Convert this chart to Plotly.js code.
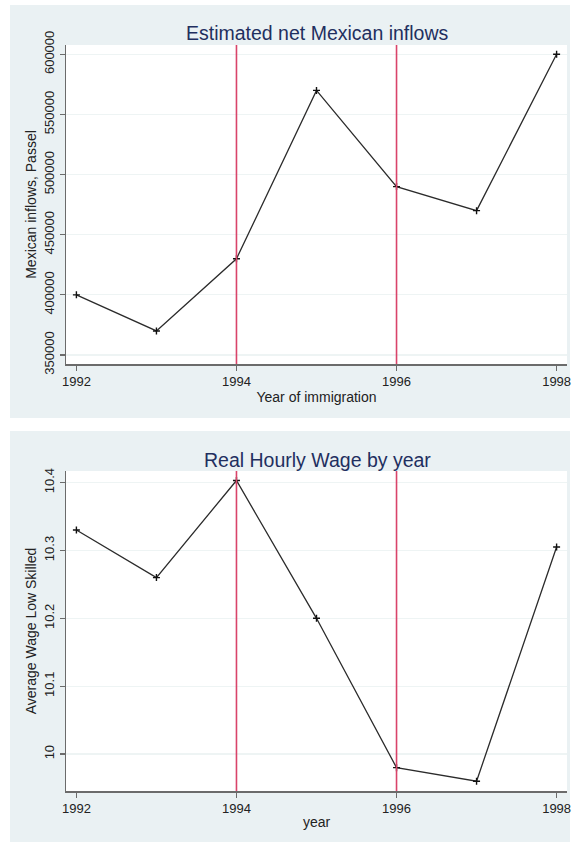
<!DOCTYPE html>
<html>
<head>
<meta charset="utf-8">
<script src="https://cdn.plot.ly/plotly-3.0.1.min.js"></script>
<style>
  html, body { margin: 0; padding: 0; background: #ffffff; }
  #chart { width: 572px; height: 844px; }
</style>
</head>
<body>
<div id="chart"></div>
<script>
// ---- Data ----
const years = [1992, 1993, 1994, 1995, 1996, 1997, 1998];
const inflows = [400000, 370000, 430000, 570000, 490000, 470000, 600000];
const wages = [10.33, 10.26, 10.403, 10.2, 9.98, 9.96, 10.305];
const policyYears = [1994, 1996];
const xTicks = [1992, 1994, 1996, 1998];
const inflowTicks = [350000, 400000, 450000, 500000, 550000, 600000];
const inflowTickText = ['350000', '400000', '450000', '500000', '550000', '600000'];
const wageTicks = [10, 10.1, 10.2, 10.3, 10.4];
const wageTickText = ['10', '10.1', '10.2', '10.3', '10.4'];
const title1 = 'Estimated net Mexican inflows';
const title2 = 'Real Hourly Wage by year';
const xTitle1 = 'Year of immigration';
const yTitle1 = 'Mexican inflows, Passel';
const xTitle2 = 'year';
const yTitle2 = 'Average Wage Low Skilled';

// ---- Layout geometry ----
const W = 572, H = 844;
const px = v => v / W;
const py = v => 1 - v / H;

const FONT = 'Liberation Sans, Arial, sans-serif';
const panelBg = '#eaf1f3';
const gridCol = '#eef4f4';
const axisCol = '#6b6b6b';
const titleCol = '#1f2f5f';
const redCol = '#d9446a';

const lineTrace = (x, y, xa, ya) => ({
  x: x, y: y, xaxis: xa, yaxis: ya,
  type: 'scatter', mode: 'lines+markers',
  line: { color: '#2b2b2b', width: 1.3 },
  marker: { symbol: 'cross-thin', size: 5, line: { color: '#111', width: 1.4 }, color: '#111' },
  hoverinfo: 'x+y', showlegend: false
});

const data = [
  lineTrace(years, inflows, 'x', 'y'),
  lineTrace(years, wages, 'x2', 'y2')
];

const xCommon = {
  range: [1991.87, 1998.13],
  tickmode: 'array', tickvals: xTicks,
  showline: true, linecolor: axisCol, linewidth: 1.5,
  ticks: 'outside', ticklen: 5, tickcolor: axisCol, tickwidth: 1.2,
  showgrid: false, zeroline: false,
  tickfont: { family: FONT, size: 13, color: '#222' }
};
const yCommon = {
  showline: true, linecolor: axisCol, linewidth: 1.5,
  ticks: 'outside', ticklen: 5, tickcolor: axisCol, tickwidth: 1.2,
  showgrid: true, gridcolor: gridCol, gridwidth: 1.2,
  zeroline: false, tickangle: -90,
  tickfont: { family: FONT, size: 13, color: '#222' }
};

const shapes = [];
// panel backgrounds
shapes.push({ type: 'rect', xref: 'paper', yref: 'paper', x0: px(10), x1: px(570), y0: py(418), y1: py(5),
  fillcolor: panelBg, line: { width: 0 }, layer: 'below' });
shapes.push({ type: 'rect', xref: 'paper', yref: 'paper', x0: px(10), x1: px(570), y0: py(842), y1: py(431),
  fillcolor: panelBg, line: { width: 0 }, layer: 'below' });
// white plot regions
shapes.push({ type: 'rect', xref: 'x domain', yref: 'y domain', x0: 0, x1: 1, y0: 0, y1: 1,
  fillcolor: '#ffffff', line: { width: 0 }, layer: 'below' });
shapes.push({ type: 'rect', xref: 'x2 domain', yref: 'y2 domain', x0: 0, x1: 1, y0: 0, y1: 1,
  fillcolor: '#ffffff', line: { width: 0 }, layer: 'below' });
// policy year lines
policyYears.forEach(yr => {
  shapes.push({ type: 'line', xref: 'x', yref: 'y domain', x0: yr, x1: yr, y0: 0, y1: 1,
    line: { color: redCol, width: 1.6 }, layer: 'above' });
  shapes.push({ type: 'line', xref: 'x2', yref: 'y2 domain', x0: yr, x1: yr, y0: 0, y1: 1,
    line: { color: redCol, width: 1.6 }, layer: 'above' });
});

const layout = {
  width: W, height: H,
  margin: { l: 0, r: 0, t: 0, b: 0 },
  paper_bgcolor: '#ffffff',
  plot_bgcolor: 'rgba(0,0,0,0)',
  showlegend: false,
  font: { family: FONT, color: '#222' },
  xaxis: Object.assign({}, xCommon, {
    domain: [px(66), px(567)], anchor: 'y',
    title: { text: xTitle1, font: { family: FONT, size: 14, color: '#222' }, standoff: 4 }
  }),
  yaxis: Object.assign({}, yCommon, {
    domain: [py(364), py(45)], anchor: 'x',
    range: [342500, 607750],
    tickmode: 'array', tickvals: inflowTicks, ticktext: inflowTickText,
    title: { text: yTitle1, font: { family: FONT, size: 14, color: '#222' }, standoff: 2 }
  }),
  xaxis2: Object.assign({}, xCommon, {
    domain: [px(66), px(567)], anchor: 'y2',
    title: { text: xTitle2, font: { family: FONT, size: 14, color: '#222' }, standoff: 2 }
  }),
  yaxis2: Object.assign({}, yCommon, {
    domain: [py(791), py(471)], anchor: 'x2',
    range: [9.9456, 10.417],
    tickmode: 'array', tickvals: wageTicks, ticktext: wageTickText,
    title: { text: yTitle2, font: { family: FONT, size: 14, color: '#222' }, standoff: 2 }
  }),
  shapes: shapes,
  annotations: [
    { text: title1, xref: 'paper', yref: 'paper', x: px(317), y: py(33), xanchor: 'center', yanchor: 'middle',
      showarrow: false, font: { family: FONT, size: 19.5, color: titleCol } },
    { text: title2, xref: 'paper', yref: 'paper', x: px(317), y: py(460), xanchor: 'center', yanchor: 'middle',
      showarrow: false, font: { family: FONT, size: 19.5, color: titleCol } }
  ]
};

Plotly.newPlot('chart', data, layout, { displayModeBar: false, staticPlot: true });
</script>
</body>
</html>
